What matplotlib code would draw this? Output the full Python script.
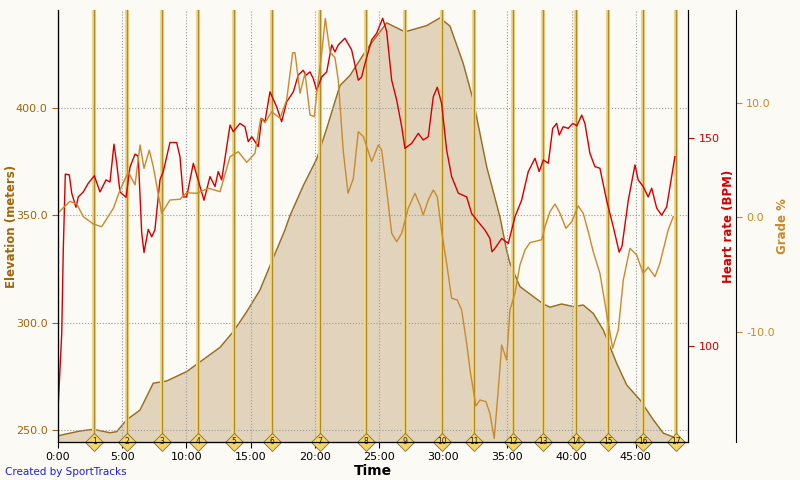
import matplotlib
matplotlib.use("Agg")
import matplotlib.pyplot as plt
from matplotlib.ticker import FuncFormatter, FormatStrFormatter

# elevation profile (minutes, meters)
elev_t = [0.0, 1.7, 2.74, 4.05, 4.57, 5.35, 6.39, 7.42, 8.46, 10.02, 10.92,
          12.62, 13.65, 14.70, 15.73, 16.64, 17.68, 18.07, 19.11, 20.15, 20.92,
          21.96, 22.74, 24.04, 25.60, 27.02, 28.71, 29.75, 30.53, 31.56, 32.34,
          33.39, 34.42, 34.94, 35.20, 35.98, 37.80, 38.32, 39.23, 40.13, 40.91,
          41.69, 42.47, 43.51, 44.29, 45.33, 46.37, 47.15, 48.19]
elev = [247.3, 249.5, 250.3, 248.7, 249.2, 254.7, 259.3, 271.8, 272.8, 277.2, 281.1,
        288.5, 295.8, 305.1, 315.2, 328.4, 343.2, 349.9, 363.9, 376.3, 390.3,
        410.5, 415.2, 427.3, 439.7, 435.5, 438.4, 442.0, 438.2, 420.8, 403.7,
        372.6, 349.3, 333.8, 327.7, 316.8, 308.7, 307.2, 308.7, 307.5, 308.2,
        304.3, 296.6, 281.1, 271.0, 264.0, 254.7, 248.5, 246.1]

# heart rate (minutes, bpm)
hr_t = [0.0, 0.29, 0.41, 0.57, 0.88, 1.07, 1.40, 1.58, 1.97, 2.36, 2.83, 3.27, 3.74,
        4.05, 4.36, 4.57, 4.83, 5.30, 5.61, 6.00, 6.25, 6.52, 6.70, 7.03, 7.30, 7.55,
        7.94, 8.20, 8.72, 9.24, 9.50, 9.76, 10.02, 10.28, 10.54, 11.06, 11.37, 11.84,
        12.23, 12.48, 12.75, 13.40, 13.65, 14.17, 14.56, 14.82, 15.09, 15.60, 15.86,
        16.12, 16.51, 17.03, 17.42, 17.81, 18.33, 18.71, 19.10, 19.31, 19.63, 19.88,
        20.15, 20.54, 20.93, 21.32, 21.57, 21.83, 22.35, 22.87, 23.13, 23.39, 23.65,
        23.91, 24.43, 24.82, 25.29, 25.60, 25.99, 26.38, 26.77, 27.02, 27.55, 28.06,
        28.45, 28.84, 29.23, 29.54, 29.88, 30.27, 30.66, 31.18, 31.83, 32.22, 32.73,
        33.26, 33.64, 33.80, 34.03, 34.56, 35.07, 35.59, 36.11, 36.63, 37.15, 37.48,
        37.80, 38.19, 38.53, 38.84, 39.04, 39.35, 39.74, 40.09, 40.42, 40.79, 41.04,
        41.43, 41.82, 42.21, 42.73, 43.25, 43.71, 43.93, 44.42, 44.94, 45.19, 45.58,
        45.97, 46.24, 46.63, 47.02, 47.41, 48.05]
hr = [84.6, 103, 123, 141.4, 141.2, 136.8, 133.4, 135.9, 137.1, 139.2, 141, 137.1, 140,
      139.5, 148.6, 144, 137.1, 135.8, 143.1, 146.2, 145.7, 127.2, 122.5, 128.1, 126.3, 128,
      140, 142, 149, 149, 145.6, 135.9, 135.9, 140, 144, 138.4, 135.1, 140.8,
      138.4, 142, 140, 153.2, 151.6, 153.6, 152.8, 149.2, 150.4, 148, 154.8,
      154, 161.2, 157.6, 154, 158.8, 161.2, 165.2, 166.4, 165.2, 166, 164.4,
      161.6, 164.8, 166, 172.5, 170.8, 172.5, 174.1, 171.3, 167.6, 164, 164.8,
      168, 173.7, 175.3, 178.9, 175.7, 164, 159.2, 152.8, 147.6, 148.8, 151.2,
      149.6, 150.4, 160, 162.3, 158.4, 147.2, 140.8, 136.8, 135.9, 131.9, 129.9,
      127.9, 125.9, 122.7, 123.5, 125.9, 124.7, 131.1, 135.1, 142, 145.2, 142,
      144.8, 144, 152.4, 153.6, 150.8, 152.8, 152.4, 153.6, 153, 155.6, 153.6,
      146.4, 143.2, 142.8, 135.1, 128.7, 122.6, 124, 135.1, 143.6, 140, 138.4,
      135.9, 138, 133.2, 131.5, 133.5, 145.6]

# grade (minutes, %)
grade_t = [0.02, 0.93, 1.46, 1.97, 2.75, 3.40, 4.31, 4.83, 5.48, 6.00, 6.39, 6.70, 7.11,
           7.42, 8.08, 8.72, 9.50, 10.02, 10.80, 11.71, 12.62, 13.40, 14.04, 14.70, 15.34,
           15.79, 16.12, 16.64, 17.29, 17.81, 18.28, 18.46, 18.85, 19.24, 19.63, 19.96,
           20.27, 20.54, 20.82, 21.18, 21.57, 21.83, 22.22, 22.59, 23.00, 23.39, 23.78,
           24.43, 24.95, 25.21, 25.60, 25.99, 26.38, 26.77, 27.28, 27.80, 28.19, 28.45,
           28.84, 29.23, 29.54, 29.88, 30.27, 30.66, 31.10, 31.44, 31.83, 32.09, 32.55,
           32.87, 33.33, 33.64, 33.98, 34.29, 34.56, 34.94, 35.20, 35.59, 35.98, 36.37,
           36.76, 37.67, 37.93, 38.32, 38.71, 39.10, 39.56, 40.01, 40.52, 40.91, 41.30,
           41.69, 42.21, 42.73, 43.20, 43.64, 44.03, 44.55, 45.07, 45.58, 45.97, 46.50,
           46.88, 47.27, 47.53, 47.92]
grade = [0.42, 1.42, 1.18, 0.07, -0.57, -0.81, 0.8, 2.4, 4.0, 2.85, 6.35, 4.3, 5.9,
         4.45, 0.37, 1.53, 1.6, 2.17, 2.12, 2.56, 2.26, 5.32, 5.76, 4.83, 5.62,
         8.69, 8.3, 9.26, 8.69, 10.29, 14.43, 14.43, 10.88, 12.63, 8.98, 8.83,
         12.04, 14.38, 17.44, 14.52, 14.0, 12.04, 5.8, 2.12, 3.4, 7.51, 7.1,
         4.89, 6.35, 5.91, 2.41, -1.38, -2.12, -1.38, 0.81, 2.12, 1.1, 0.22,
         1.53, 2.41, 1.82, -1.2, -4.01, -7.08, -7.22, -8.1, -11.02, -13.35, -16.5,
         -15.98, -16.13, -17.15, -19.34, -15.1, -11.17, -12.48, -8.1, -6.64, -4.16, -2.85,
         -2.2, -1.95, -0.81, 0.51, 1.18, 0.37, -0.95, -0.37, 1.01, 0.37, -1.24,
         -3.0, -4.89, -8.39, -11.45, -9.85, -5.47, -2.7, -3.28, -4.89, -4.36, -5.18,
         -4.01, -2.26, -1.09, 0.07]

# lap markers (minutes)
lap_t = [2.83, 5.40, 8.12, 10.93, 13.73, 16.69, 20.40, 23.99, 27.05, 29.93,
         32.42, 35.41, 37.80, 40.32, 42.86, 45.54, 48.13]

bg = "#FBFAF5"
brown = "#A0660A"
red = "#D40000"
orange = "#C98A2B"

fig = plt.figure(figsize=(8, 4.8), dpi=100, facecolor=bg)
ax = fig.add_axes([58 / 800, 38 / 480, 630 / 800, 432 / 480], facecolor=bg)

ax.fill_between(elev_t, elev, 200, color="#E2D4BC", zorder=1)
ax.plot(elev_t, elev, color="#9A6B1E", lw=1, zorder=1.5)
ax.set_xlim(0, 49.07)
ax.set_ylim(244.4, 445.7)

ax.set_axisbelow(False)
ax.grid(True, linestyle=":", color="#999999", lw=0.8)
ax.set_xticks(range(0, 50, 5))
ax.xaxis.set_major_formatter(FuncFormatter(lambda v, p: "%d:00" % v))
ax.set_yticks([250, 300, 350, 400])
ax.yaxis.set_major_formatter(FormatStrFormatter("%.1f"))
ax.tick_params(axis="y", colors=brown, labelsize=8, length=4)
ax.tick_params(axis="x", colors="black", labelsize=8, length=4)
ax.spines["top"].set_visible(False)
ax.set_ylabel("Elevation (meters)", color=brown, fontsize=8.5, fontweight="bold")
ax.yaxis.set_label_coords(-0.063, 0.5)
ax.set_xlabel("Time", fontsize=10, fontweight="bold")
ax.xaxis.set_label_coords(0.5, -0.052)

for i, t in enumerate(lap_t):
    ax.axvline(t, color="#F0D88C", lw=3, zorder=3)
    ax.axvline(t, color="#B08A28", lw=1, zorder=3.1)
    ax.plot(t, 244.4, marker="D", ms=9, mfc="#F5D565", mec="#7D6E3A", mew=0.6,
            clip_on=False, zorder=6)
    ax.text(t, 244.4, str(i + 1), fontsize=5.5, ha="center", va="center",
            color="#222222", zorder=7, clip_on=False)

# heart rate axis
ax2 = ax.twinx()
ax2.plot(hr_t, hr, color=red, lw=1)
ax2.set_ylim(76.9, 180.9)
ax2.set_yticks([100, 150])
ax2.tick_params(axis="y", colors=red, labelsize=8, length=4)
ax2.spines["top"].set_visible(False)
ax2.set_ylabel("Heart rate (BPM)", color=red, fontsize=8.5, fontweight="bold")
ax2.yaxis.set_label_coords(1.054, 0.5)

# grade axis
ax3 = ax.twinx()
ax3.plot(grade_t, grade, color=orange, lw=1)
ax3.set_ylim(-19.66, 18.17)
ax3.set_yticks([-10, 0, 10])
ax3.yaxis.set_major_formatter(FormatStrFormatter("%.1f"))
ax3.spines["right"].set_position(("axes", 1.076))
ax3.spines["top"].set_visible(False)
ax3.tick_params(axis="y", colors=orange, labelsize=8, length=4)
ax3.set_ylabel("Grade %", color=orange, fontsize=8.5, fontweight="bold")
ax3.yaxis.set_label_coords(1.139, 0.5)

fig.text(5 / 800, 1 - 472 / 480, "Created by SportTracks", color="#2020E0",
         fontsize=7.5, va="center")

fig.savefig("out.png", dpi=100, facecolor=bg)
